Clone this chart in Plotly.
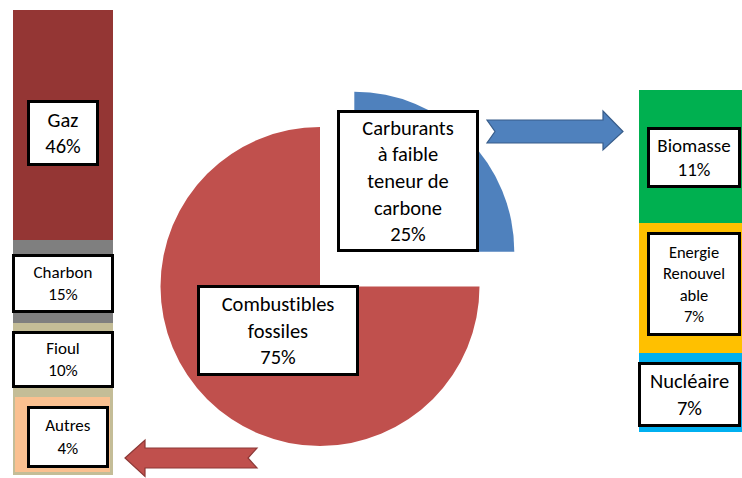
import plotly.graph_objects as go

# ---------------- data ----------------
pie_labels = ["Carburants<br>à faible<br>teneur de<br>carbone", "Combustibles<br>fossiles"]
pie_shares = [25, 75]

left_labels = ["Gaz", "Charbon", "Fioul", "Autres"]
left_shares = [46, 15, 10, 4]
# drawn segment extents of the (non-proportional) left column
left_segments = [230, 83, 72, 80]

right_labels = ["Biomasse", "Energie<br>Renouvel<br>able", "Nucléaire"]
right_shares = [11, 7, 7]
# drawn segment extents of the (non-proportional) right column
right_segments = [133, 130, 79]

# ---------------- styles ----------------
W, H = 742, 478
FONT = "Carlito, Lato, sans-serif"
pie_colors = ["#4F81BD", "#C0504D"]
left_colors = ["#943634", "#7F7F7F", "#C4BD97", "#FAC090"]
right_colors = ["#00B050", "#FFC000", "#00B0F0"]


def px(x):
    return x / W


def py(y):
    return 1 - y / H


fig = go.Figure()

# ---- pie: fossil slice (centre) and pulled-out low-carbon slice ----
def pie_domain(cx, cy, r):
    return dict(x=[px(cx - r), px(cx + r)], y=[py(cy + r), py(cy - r)])

transparent = "rgba(0,0,0,0)"
fig.add_trace(go.Pie(
    labels=["low", "fossil"], values=pie_shares, sort=False, direction="clockwise",
    rotation=0, textinfo="none", hoverinfo="label+percent",
    marker=dict(colors=[transparent, pie_colors[1]], line=dict(width=0)),
    domain=pie_domain(320, 286.5, 159.5),
))
fig.add_trace(go.Pie(
    labels=["low", "fossil"], values=pie_shares, sort=False, direction="clockwise",
    rotation=0, textinfo="none", hoverinfo="label+percent",
    marker=dict(colors=[pie_colors[0], transparent], line=dict(width=0)),
    domain=pie_domain(354.3, 251.7, 160),
))

# ---- left stacked column (bottom-up) ----
for i in reversed(range(len(left_labels))):
    line = dict(width=0)
    if left_labels[i] == "Autres":
        line = dict(width=5, color=left_colors[2])
    fig.add_trace(go.Bar(
        x=[0], y=[left_segments[i]], width=1, name=left_labels[i],
        marker=dict(color=left_colors[i], line=line),
        xaxis="x", yaxis="y", hoverinfo="name",
    ))

# ---- right stacked column (bottom-up) ----
for i in reversed(range(len(right_labels))):
    fig.add_trace(go.Bar(
        x=[0], y=[right_segments[i]], width=1, name=right_labels[i].replace("<br>", ""),
        marker=dict(color=right_colors[i], line=dict(width=0)),
        xaxis="x2", yaxis="y2", hoverinfo="name",
    ))

ax = dict(visible=False, fixedrange=True)
fig.update_layout(
    width=W, height=H, margin=dict(l=0, r=0, t=0, b=0),
    paper_bgcolor="white", plot_bgcolor="rgba(0,0,0,0)",
    showlegend=False, barmode="stack", bargap=0,
    xaxis=dict(ax, domain=[px(13), px(113)], range=[-0.5, 0.5]),
    yaxis=dict(ax, domain=[py(475), py(10)], range=[0, sum(left_segments)]),
    xaxis2=dict(ax, domain=[px(639), 1.0], range=[-0.5, 0.5], anchor="y2"),
    yaxis2=dict(ax, domain=[py(432), py(90)], range=[0, sum(right_segments)], anchor="x2"),
)

# ---- block arrows ----
def path(points):
    return "M " + " L ".join(f"{px(x):.5f},{py(y):.5f}" for x, y in points) + " Z"

blue_arrow = [(487, 120), (603, 120), (603, 111), (623, 131.5), (603, 150), (603, 143),
              (487, 143), (495, 131.5)]
red_arrow = [(125, 458), (145, 440), (145, 448), (257, 448), (248, 458), (257, 468),
             (145, 468), (145, 476.5)]
fig.add_shape(type="path", path=path(blue_arrow), xref="paper", yref="paper",
              fillcolor="#4F81BD", line=dict(color="#385D8A", width=1.2))
fig.add_shape(type="path", path=path(red_arrow), xref="paper", yref="paper",
              fillcolor="#C0504D", line=dict(color="#8C3836", width=1.2))

# ---- label boxes ----
BW = 3


def box(text, cx, cy, w, h, size):
    fig.add_annotation(
        text=text, x=px(cx), y=py(cy), xref="paper", yref="paper",
        xanchor="center", yanchor="middle", showarrow=False,
        width=w - 2 * BW, height=h - 2 * BW, borderpad=0,
        bordercolor="black", borderwidth=BW, bgcolor="white",
        align="center", valign="middle",
        font=dict(family=FONT, size=size, color="black"),
    )

left_boxes = [(63, 133, 72, 66, 20.5), (63, 283.5, 102, 59, 17),
              (63, 359.5, 102, 57, 17), (68, 437, 82, 62, 17)]
for (cx, cy, w, h, s), lab, v in zip(left_boxes, left_labels, left_shares):
    box(f"{lab}<br>{v}%", cx, cy, w, h, s)

right_boxes = [(694, 157.5, 94, 61, 19), (694, 284, 94, 104, 16.5),
               (689.5, 394.5, 103, 65, 20.5)]
for (cx, cy, w, h, s), lab, v in zip(right_boxes, right_labels, right_shares):
    box(f"{lab}<br>{v}%", cx, cy, w, h, s)

pie_boxes = [(408, 181, 142, 142, 20.5), (278, 330.5, 162, 91, 20.5)]
for (cx, cy, w, h, s), lab, v in zip(pie_boxes, pie_labels, pie_shares):
    box(f"{lab}<br>{v}%", cx, cy, w, h, s)

fig.write_html(
    "out.html",
    config=dict(displayModeBar=False),
    post_script=(
        "document.body.style.margin='0px';"
        "document.body.style.overflow='hidden';"
        "var st=document.createElement('style');"
        "st.innerHTML='text{font-variant-ligatures:none !important;"
        "font-feature-settings:\"liga\" 0, \"clig\" 0, \"dlig\" 0 !important;}';"
        "document.head.appendChild(st);"
    ),
)
